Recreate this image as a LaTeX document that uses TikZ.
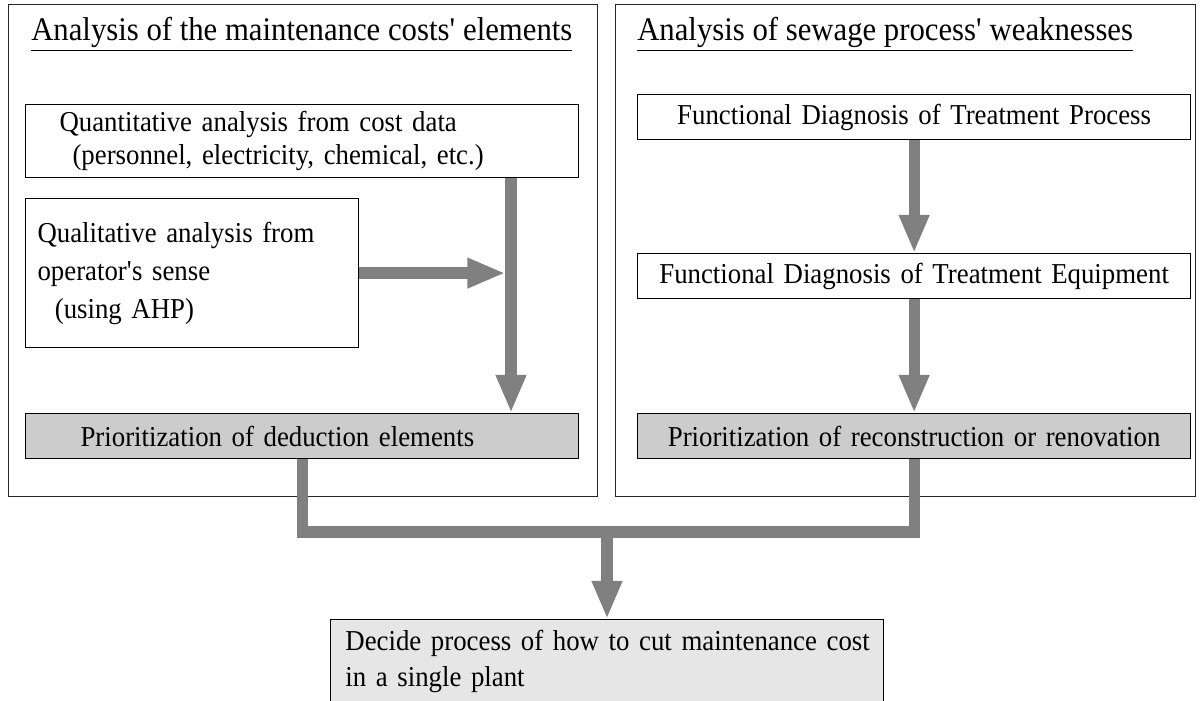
\documentclass[tikz,border=0pt]{standalone}
\usepackage{fontspec}
\setmainfont{Liberation Serif}[FakeStretch=0.93]
\usetikzlibrary{arrows.meta}

\definecolor{flowgray}{RGB}{128,128,128}
\definecolor{prioFill}{RGB}{204,204,204}
\definecolor{decideFill}{RGB}{230,230,230}

\newcommand{\boxfont}[1]{\fontsize{20.5}{#1}\selectfont\spaceskip=0.2em plus 0.05em\relax}

\tikzset{
	frame/.style={draw=black!85, line width=0.6pt},
	title/.style={anchor=base west, inner sep=0pt, font=\fontsize{23.5}{28}\selectfont},
	box/.style={draw, line width=0.8pt, anchor=north west, minimum width=13.825cm,
		inner ysep=0pt, font=\boxfont{27}},
	prio/.style={box, fill=prioFill, minimum height=1.125cm},
	flow/.style={draw=flowgray, color=flowgray, line width=8pt,
		-{Triangle[width=0.7cm,length=0.95cm]}},
	pipe/.style={draw=flowgray, line width=8pt, line join=miter}
}

\begin{document}
\begin{tikzpicture}[x=0.025cm, y=-0.025cm]

		\useasboundingbox (0,0) rectangle (1200,701);

		% the two analysis frames
		\draw[frame] (8,4) rectangle (597,496);
		\draw[frame] (615,4) rectangle (1195,496);

		\node[title] (costtitle) at (31,41) {\underline{Analysis of the maintenance costs\textquotesingle{} elements}};
		\node[title] (sewtitle) at (637,41) {\underline{Analysis of sewage process\textquotesingle{} weaknesses}};

		% left side
		\node[box, minimum height=1.825cm, text width=12.125cm, inner xsep=0.85cm, align=left,
			font=\boxfont{24}] (quant) at (25,104)
			{Quantitative analysis from cost data\\\hspace*{0.45em}(personnel, electricity, chemical, etc.)};
		\node[box, minimum width=8.325cm, minimum height=3.725cm, text width=7.725cm, inner xsep=0.3cm,
			align=left] (qual) at (25,198)
			{Qualitative analysis from\\operator\textquotesingle s sense\\\hspace*{0.6em}(using AHP)};
		\node[prio, text width=11.075cm, inner xsep=1.375cm, align=left] (prio1) at (25,413)
			{Prioritization of deduction elements};

		% right side
		\node[box, minimum height=1.125cm, text width=13.325cm, inner xsep=0.25cm, align=center] (procdiag) at (637,94)
			{Functional Diagnosis of Treatment Process};
		\node[box, minimum height=1.125cm, text width=13.325cm, inner xsep=0.25cm, align=center] (equipdiag) at (637,253)
			{Functional Diagnosis of Treatment Equipment};
		\node[prio, text width=13.325cm, inner xsep=0.25cm, align=center] (prio2) at (637,413)
			{Prioritization of reconstruction or renovation};

		% result
		\node[box, fill=decideFill, minimum height=2.1cm, text width=13.225cm, inner xsep=0.3cm, align=left,
			font=\boxfont{26}] (decide) at (330,619)
			{\mbox{\hspace*{0.1em}Decide process of how to cut maintenance cost}\\\hspace*{0.1em}in a single plant};

		\coordinate (lbar) at (511,0);
		\coordinate (join) at (607,532);

		\draw[flow] (quant.south -| lbar) -- (prio1.north -| lbar);
		\draw[flow, shorten >=4pt] (qual.east) -- (qual.east -| lbar);
		\draw[flow] (procdiag.south) -- (equipdiag.north);
		\draw[flow] (equipdiag.south) -- (prio2.north);

		\draw[pipe] (prio1.south) |- (join) -| (prio2.south);
		\draw[flow] (join) -- (join |- decide.north);
		\end{tikzpicture}
\end{document}
